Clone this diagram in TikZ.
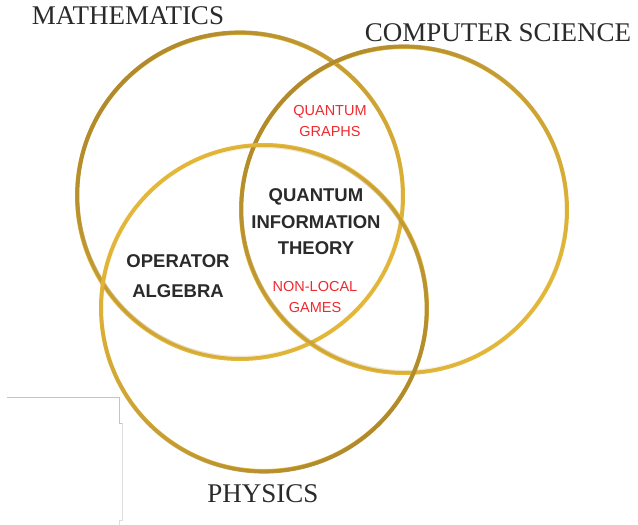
\documentclass[tikz,border=0pt]{standalone}
\usepackage{fontspec}
\setmainfont{Liberation Serif}
\newfontfamily\vennsans{Liberation Sans}
\usetikzlibrary{fadings}
\definecolor{vnGold}{HTML}{E4B83A}
\definecolor{vnGoldDark}{HTML}{B08A2C}
\definecolor{vnInk}{HTML}{2A2A2A}
\definecolor{vnRed}{HTML}{EE2A2E}
\definecolor{vnFrame}{HTML}{C4C4C4}
\definecolor{vnFrameLight}{HTML}{DEDEDE}
\tikzset{
  vn ring/.style={draw=vnGold, line width=4pt},
  vn shade/.style={draw=vnGoldDark, line width=4pt, path fading=north, fading angle=#1},
  vn field/.style={font=\fontsize{27}{27}\selectfont, text=vnInk, inner sep=0pt},
  vn topic/.style={font=\vennsans\bfseries\fontsize{18.5}{26.5}\selectfont, text=vnInk, align=center, inner sep=0pt},
  vn note/.style={font=\vennsans\fontsize{14.5}{21}\selectfont, text=vnRed, align=center, inner sep=0pt},
  vn frame/.style={draw=vnFrame, line width=1pt},
  vn frame light/.style={draw=vnFrameLight, line width=1pt},
}
\begin{document}
\begin{tikzpicture}[x=1pt,y=-1pt]
  \useasboundingbox (0,0) rectangle (638,525);
  % the three fields
  \draw[vn ring] (240,196) circle [radius=163pt];
  \draw[vn shade=-135] (240,196) circle [radius=163pt];
  \draw[vn ring] (404,210) circle [radius=163pt];
  \draw[vn shade=-135] (404,210) circle [radius=163pt];
  \draw[vn ring] (264,308) circle [radius=163pt];
  \draw[vn shade=45] (264,308) circle [radius=163pt];
  \node[vn field] (math) at (128,16) {MATHEMATICS};
  \node[vn field] (cs) at (498,33) {COMPUTER SCIENCE};
  \node[vn field] (phys) at (263,494) {PHYSICS};
  % overlaps
  \node[vn topic] (qit) at (316,222) {QUANTUM\\INFORMATION\\THEORY};
  \node[vn topic, font=\vennsans\bfseries\fontsize{18.5}{30}\selectfont] (opalg) at (178,276) {OPERATOR\\ALGEBRA};
  \node[vn note] (qgraphs) at (330,121.5) {QUANTUM\\GRAPHS};
  \node[vn note] (nlgames) at (315,297) {NON-LOCAL\\GAMES};
  % stray frame lines
  \draw[vn frame] (7,397) -- (119,397) -- (119,423) -- (122.5,423);
  \draw[vn frame light] (122.5,423) -- (122.5,520) -- (119,520) -- (119,525);
\end{tikzpicture}
\end{document}
